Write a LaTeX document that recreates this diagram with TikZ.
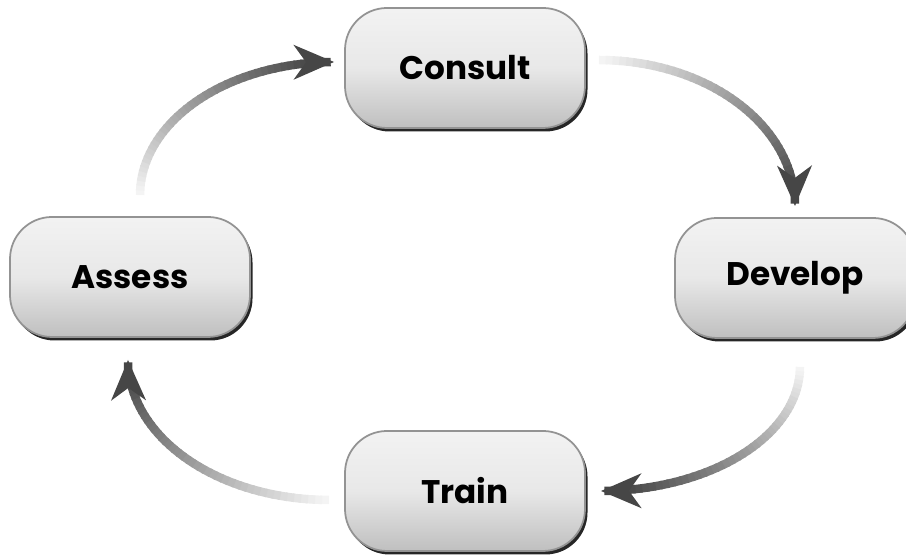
\documentclass[tikz,border=0pt]{standalone}
\usepackage{fontspec}
\setmainfont{Poppins}
\usepackage{tikz}
\usetikzlibrary{arrows.meta,shapes,shadows,calc,positioning}
\definecolor{flowlight}{HTML}{F4F4F4}
\definecolor{flowdark}{HTML}{464646}
\tikzstyle{stage}=[rounded corners=0.42cm, minimum width=2.4cm, minimum height=1.2cm,
  draw=gray!85, line width=0.5pt, top color=gray!10, bottom color=gray!50, middle color=gray!18,
  general shadow={fill=black!85, shadow xshift=0.025cm, shadow yshift=-0.035cm},
  font=\bfseries\fontsize{9.3}{11}\selectfont]
\tikzstyle{flow}=[line width=0.085cm, line cap=butt]
\tikzstyle{flowtip}=[-{Stealth[length=0.4cm,width=0.34cm,inset=0.12cm]}]
% gradient arc: #1 corner, #2 tail, #3 head
\newcommand{\cyclearrow}[3]{%
  \foreach \i in {0,...,41}{%
    \pgfmathsetmacro{\ta}{2*\i}
    \pgfmathsetmacro{\tb}{2*\i+2.6}
    \pgfmathtruncatemacro{\pct}{100*\i/41}
    \draw[flow, draw=flowdark!\pct!flowlight]
      ($(#1)!{cos(\ta)}!(#2)+(#1)!{sin(\ta)}!(#3)-(#1)$) --
      ($(#1)!{cos(\tb)}!(#2)+(#1)!{sin(\tb)}!(#3)-(#1)$);
  }
  \draw[flow, flowtip, draw=flowdark, fill=flowdark]
    ($(#1)!{cos(89)}!(#2)+(#1)!{sin(89)}!(#3)-(#1)$) -- (#3);
}

\begin{document}
\begin{tikzpicture}
\clip (0,0) rectangle (9.06,5.55);
\node[stage] (consult) at (4.65,4.87) {Consult};
\node[stage] (assess) at (1.30,2.78) {Assess};
\node[stage] (develop) at (7.95,2.77) {Develop};
\node[stage] (train) at (4.65,0.64) {Train};

\coordinate (t1) at ($(assess.north)+(0.10,0.21)$);
\coordinate (h1) at ($(consult.west)+(-0.10,0.06)$);
\coordinate (t2) at ($(consult.east)+(0.13,0.08)$);
\coordinate (h2) at ($(develop.north)+(0.0,0.11)$);
\coordinate (t3) at ($(develop.south)+(0.05,-0.28)$);
\coordinate (h3) at ($(train.east)+(0.15,0.0)$);
\coordinate (t4) at ($(train.west)+(-0.15,-0.09)$);
\coordinate (h4) at ($(assess.south)+(-0.02,-0.22)$);

\coordinate (c1) at (h1 |- t1);
\coordinate (c2) at (t2 |- h2);
\coordinate (c3) at (h3 |- t3);
\coordinate (c4) at (t4 |- h4);

\cyclearrow{c1}{t1}{h1}
\cyclearrow{c2}{t2}{h2}
\cyclearrow{c3}{t3}{h3}
\cyclearrow{c4}{t4}{h4}
\end{tikzpicture}
\end{document}
